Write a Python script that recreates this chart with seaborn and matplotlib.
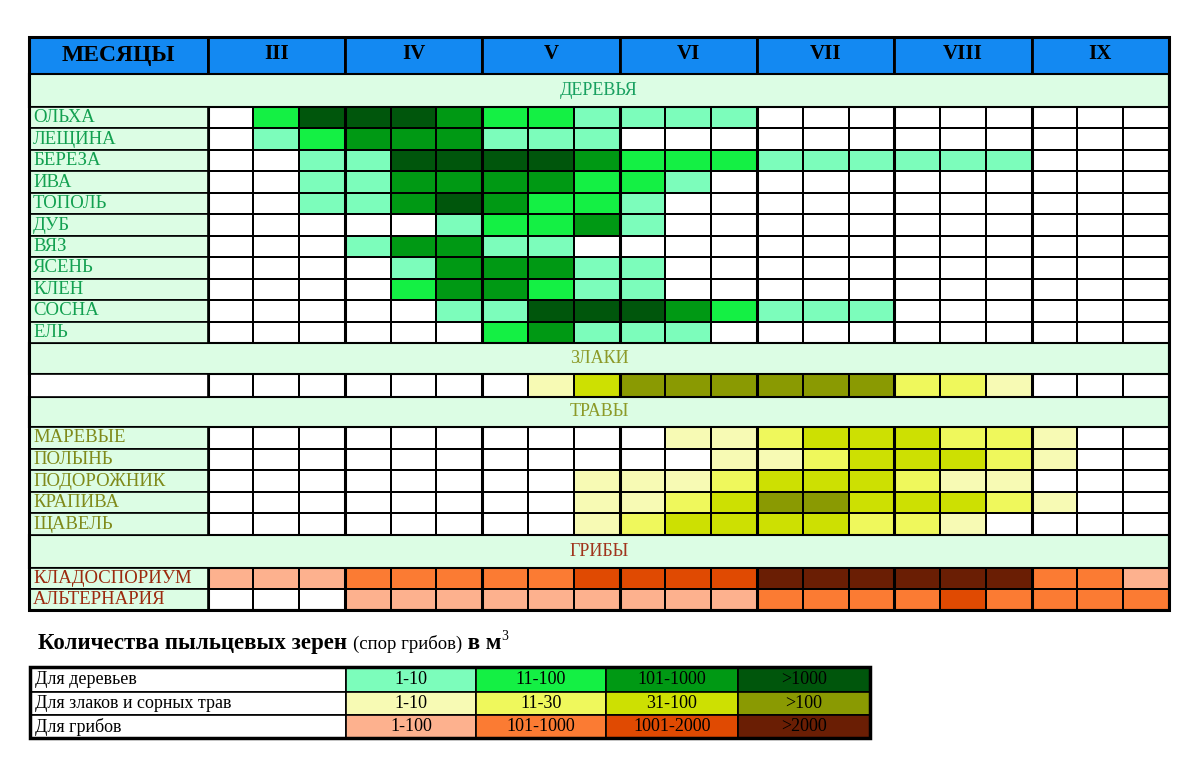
import matplotlib
matplotlib.use("Agg")
import matplotlib.pyplot as plt
from matplotlib.colors import ListedColormap
from matplotlib.patches import Rectangle
import pandas as pd
import seaborn as sns

# --- data: pollen level per decade (0 = none, 1..4 = legend classes) ---
months = ["III", "IV", "V", "VI", "VII", "VIII", "IX"]
decades = ["1", "2", "3"]

tree_names = ["ОЛЬХА", "ЛЕЩИНА", "БЕРЕЗА", "ИВА", "ТОПОЛЬ", "ДУБ",
              "ВЯЗ", "ЯСЕНЬ", "КЛЕН", "СОСНА", "ЕЛЬ"]
tree_levels = [
    [0, 2, 4, 4, 4, 3, 2, 2, 1, 1, 1, 1, 0, 0, 0, 0, 0, 0, 0, 0, 0],
    [0, 1, 2, 3, 3, 3, 1, 1, 1, 0, 0, 0, 0, 0, 0, 0, 0, 0, 0, 0, 0],
    [0, 0, 1, 1, 4, 4, 4, 4, 3, 2, 2, 2, 1, 1, 1, 1, 1, 1, 0, 0, 0],
    [0, 0, 1, 1, 3, 3, 3, 3, 2, 2, 1, 0, 0, 0, 0, 0, 0, 0, 0, 0, 0],
    [0, 0, 1, 1, 3, 4, 3, 2, 2, 1, 0, 0, 0, 0, 0, 0, 0, 0, 0, 0, 0],
    [0, 0, 0, 0, 0, 1, 2, 2, 3, 1, 0, 0, 0, 0, 0, 0, 0, 0, 0, 0, 0],
    [0, 0, 0, 1, 3, 3, 1, 1, 0, 0, 0, 0, 0, 0, 0, 0, 0, 0, 0, 0, 0],
    [0, 0, 0, 0, 1, 3, 3, 3, 1, 1, 0, 0, 0, 0, 0, 0, 0, 0, 0, 0, 0],
    [0, 0, 0, 0, 2, 3, 3, 2, 1, 1, 0, 0, 0, 0, 0, 0, 0, 0, 0, 0, 0],
    [0, 0, 0, 0, 0, 1, 1, 4, 4, 4, 3, 2, 1, 1, 1, 0, 0, 0, 0, 0, 0],
    [0, 0, 0, 0, 0, 0, 2, 3, 1, 1, 1, 0, 0, 0, 0, 0, 0, 0, 0, 0, 0],
]

grass_names = [""]
grass_levels = [
    [0, 0, 0, 0, 0, 0, 0, 1, 3, 4, 4, 4, 4, 4, 4, 2, 2, 1, 0, 0, 0],
]

herb_names = ["МАРЕВЫЕ", "ПОЛЫНЬ", "ПОДОРОЖНИК", "КРАПИВА", "ЩАВЕЛЬ"]
herb_levels = [
    [0, 0, 0, 0, 0, 0, 0, 0, 0, 0, 1, 1, 2, 3, 3, 3, 2, 2, 1, 0, 0],
    [0, 0, 0, 0, 0, 0, 0, 0, 0, 0, 0, 1, 1, 2, 3, 3, 3, 2, 1, 0, 0],
    [0, 0, 0, 0, 0, 0, 0, 0, 1, 1, 1, 2, 3, 3, 3, 2, 1, 1, 0, 0, 0],
    [0, 0, 0, 0, 0, 0, 0, 0, 1, 1, 2, 3, 4, 4, 3, 3, 3, 2, 1, 0, 0],
    [0, 0, 0, 0, 0, 0, 0, 0, 1, 2, 3, 3, 3, 3, 2, 2, 1, 0, 0, 0, 0],
]

fungi_names = ["КЛАДОСПОРИУМ", "АЛЬТЕРНАРИЯ"]
fungi_levels = [
    [1, 1, 1, 2, 2, 2, 2, 2, 3, 3, 3, 3, 4, 4, 4, 4, 4, 4, 2, 2, 1],
    [0, 0, 0, 1, 1, 1, 1, 1, 1, 1, 1, 1, 2, 2, 2, 2, 3, 2, 2, 2, 2],
]

legend_rows = ["Для деревьев", "Для злаков и сорных трав", "Для грибов"]
legend_ranges = [
    ["1-10", "11-100", "101-1000", ">1000"],
    ["1-10", "11-30", "31-100", ">100"],
    ["1-100", "101-1000", "1001-2000", ">2000"],
]

tree_colors = ["#ffffff", "#7cfdbb", "#14f044", "#009914", "#00560c"]
grass_colors = ["#ffffff", "#f7fab4", "#eff85c", "#cde002", "#8a9a02"]
fungi_colors = ["#ffffff", "#fdb18e", "#fb7b33", "#e04a02", "#6a1e04"]

HEADER_BLUE = "#1389f2"
MINT = "#dcfde4"

W, H = 1200, 774
X0, XL, X1 = 29, 207.5, 1169

plt.rcParams["font.family"] = ["Liberation Serif", "DejaVu Serif"]

fig = plt.figure(figsize=(W / 100, H / 100), dpi=100)
bg = fig.add_axes([0, 0, 1, 1])
bg.set_xlim(0, W)
bg.set_ylim(H, 0)
bg.axis("off")


def rect(x0, y0, x1, y1, fc, lw=1.2):
    bg.add_patch(Rectangle((x0, y0), x1 - x0, y1 - y0, facecolor=fc,
                           edgecolor="black", linewidth=lw))


# header row
rect(X0, 37, XL, 74, HEADER_BLUE, 2)
bg.text((X0 + XL) / 2, 56, "МЕСЯЦЫ", ha="center", va="center",
        fontsize=17, fontweight="bold")
col_w = (X1 - XL) / 21
for i, m in enumerate(months):
    mx0 = XL + 3 * i * col_w
    rect(mx0, 37, mx0 + 3 * col_w, 74, HEADER_BLUE, 2)
    bg.text(mx0 + 1.5 * col_w, 54, m, ha="center", va="center",
            fontsize=15, fontweight="bold")

# section header rows
sections = [("ДЕРЕВЬЯ", 74, 107, "#18a060"), ("ЗЛАКИ", 343, 374, "#8c9a28"),
            ("ТРАВЫ", 397, 427, "#8c9a28"), ("ГРИБЫ", 535, 568, "#a0341c")]
for name, y0, y1, c in sections:
    rect(X0, y0, X1, y1, MINT, 1.5)
    bg.text((X0 + X1) / 2, (y0 + y1) / 2, name, ha="center", va="center",
            fontsize=13, color=c)

# data blocks: names, levels, palette, label colour, label background, y range
blocks = [
    (tree_names, tree_levels, tree_colors, "#12a050", MINT, 107, 343),
    (grass_names, grass_levels, grass_colors, "#7f8a1a", "#ffffff", 374, 397),
    (herb_names, herb_levels, grass_colors, "#7f8a1a", MINT, 427, 535),
    (fungi_names, fungi_levels, fungi_colors, "#9c2a0e", MINT, 568, 610),
]
cols = [f"{m}-{d}" for m in months for d in decades]
for names, levels, colors, tc, lbg, y0, y1 in blocks:
    rh = (y1 - y0) / len(names)
    for j, n in enumerate(names):
        rect(X0, y0 + j * rh, XL, y0 + (j + 1) * rh, lbg, 1.2)
        bg.text(X0 + 4, y0 + (j + 0.5) * rh, n, ha="left", va="center",
                fontsize=13.5, color=tc)
    ax = fig.add_axes([XL / W, 1 - y1 / H, (X1 - XL) / W, (y1 - y0) / H])
    df = pd.DataFrame(levels, index=names, columns=cols)
    sns.heatmap(df, ax=ax, cmap=ListedColormap(colors), vmin=-0.5, vmax=4.5,
                cbar=False, linewidths=1.3, linecolor="black",
                xticklabels=False, yticklabels=False)
    ax.set_xlabel("")
    ax.set_ylabel("")
    for k in range(0, 8):
        ax.axvline(3 * k, color="black", lw=2.2)
    ax.axhline(0, color="black", lw=1.5)
    ax.axhline(len(names), color="black", lw=1.5)

# outer frame on top
top = fig.add_axes([0, 0, 1, 1], facecolor="none")
top.set_xlim(0, W)
top.set_ylim(H, 0)
top.axis("off")
top.add_patch(Rectangle((X0, 37), X1 - X0, 610 - 37, fill=False,
                        edgecolor="black", linewidth=2.2))

# legend title
renderer = fig.canvas.get_renderer()
x = 38
for s, fs, fw, dy in [("Количества пыльцевых зерен ", 16.5, "bold", 0),
                      ("(спор грибов)", 13.5, "normal", 0),
                      (" в м", 16.5, "bold", 0), ("3", 10, "normal", -9)]:
    t = bg.text(x, 649 + dy, s, ha="left", va="baseline", fontsize=fs,
                fontweight=fw)
    x += t.get_window_extent(renderer).width

# legend table
lx = [30, 346, 476, 606, 738, 870]
ly = [667, 692, 715, 738]
palettes = [tree_colors, grass_colors, fungi_colors]
for r, label in enumerate(legend_rows):
    rect(lx[0], ly[r], lx[1], ly[r + 1], "#ffffff", 1.2)
    bg.text(lx[0] + 5, (ly[r] + ly[r + 1]) / 2, label, ha="left",
            va="center", fontsize=13)
    for c, txt in enumerate(legend_ranges[r]):
        rect(lx[c + 1], ly[r], lx[c + 2], ly[r + 1], palettes[r][c + 1], 1.2)
        bg.text((lx[c + 1] + lx[c + 2]) / 2, (ly[r] + ly[r + 1]) / 2, txt,
                ha="center", va="center", fontsize=13)
top.add_patch(Rectangle((lx[0], ly[0]), lx[-1] - lx[0], ly[-1] - ly[0],
                        fill=False, edgecolor="black", linewidth=2.5))

fig.savefig("out.png", dpi=100)
